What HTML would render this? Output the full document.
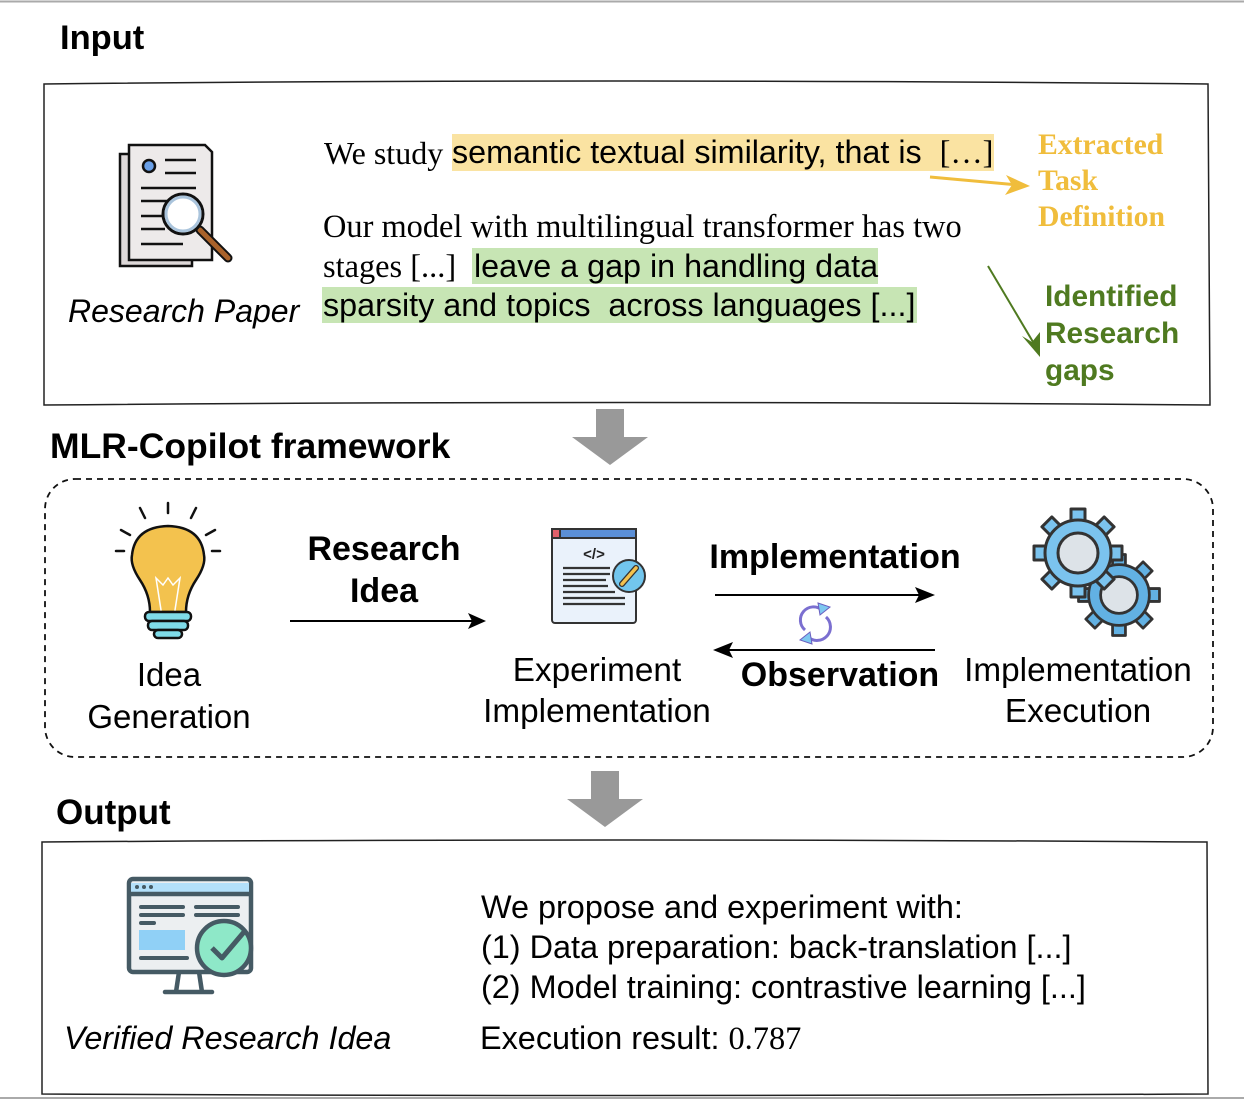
<!DOCTYPE html>
<html><head><meta charset="utf-8">
<style>
body{margin:0;background:#fff;}
#c{position:relative;width:1244px;height:1100px;overflow:hidden;font-family:"Liberation Sans",sans-serif;color:#000;}
.t{position:absolute;white-space:nowrap;line-height:1;}
.b{font-weight:bold;}
.ser{font-family:"Liberation Serif",serif;}
.ctr{transform:translateX(-50%);text-align:center;}
svg{position:absolute;left:0;top:0;}
</style></head><body><div id="c">
<svg width="1244" height="1100">
<defs>
<g id="tooth8"><rect x="-7" y="-44" width="14" height="14"/></g>
</defs>
<line x1="0" y1="1.5" x2="1244" y2="1.5" stroke="#aaa" stroke-width="2"/>
<line x1="0" y1="1098" x2="1244" y2="1098" stroke="#aaa" stroke-width="2"/>
<path d="M44,84 Q600,78 1208,84 L1210,405 Q620,400 44,405 Z" fill="none" stroke="#222" stroke-width="1.5"/>
<rect x="45" y="479" width="1168" height="278" rx="30" fill="none" stroke="#111" stroke-width="1.8" stroke-dasharray="6,5"/>
<path d="M42,842 Q600,838 1207,842 L1208,1094 Q620,1097 42,1094 Z" fill="none" stroke="#222" stroke-width="1.5"/>
<path d="M596,409 h28 v28 h24 l-38,28 l-38,-28 h24 Z" fill="#999"/>
<path d="M591,771 h28 v28 h24 l-38,28 l-38,-28 h24 Z" fill="#999"/>
<line x1="930" y1="177" x2="1018" y2="185" stroke="#f0bd3c" stroke-width="3"/>
<path d="M1030,186 L1006,175 L1012,185 L1005,195 Z" fill="#f0bd3c"/>
<line x1="988" y1="266" x2="1036" y2="347" stroke="#4f7a20" stroke-width="2"/>
<path d="M1040,357 L1022,336 L1032,342 L1040,332 Z" fill="#4f7a20"/>
<line x1="290" y1="621" x2="474" y2="621" stroke="#000" stroke-width="2"/>
<path d="M486,621 l-18,-8 l4,8 l-4,8 Z"/>
<line x1="715" y1="595" x2="925" y2="595" stroke="#000" stroke-width="2"/>
<path d="M935,595 l-20,-8 l4,8 l-4,8 Z"/>
<line x1="725" y1="650" x2="935" y2="650" stroke="#000" stroke-width="2"/>
<path d="M713,650 l20,-8 l-4,8 l4,8 Z"/>
<g fill="none" stroke="#7b6fd0" stroke-width="3">
<path d="M805,630 A12,12 0 0 1 822,610"/>
<path d="M826,617 A12,12 0 0 1 808,637"/>
</g>
<path d="M818,603 l12,4 l-10,8 Z" fill="#7ec8f0" stroke="#6a5fc0"/>
<path d="M812,644 l-12,-4 l10,-8 Z" fill="#7ec8f0" stroke="#6a5fc0"/>
<g stroke="#111" stroke-width="2.5">
<rect x="120" y="154" width="72" height="112" fill="#ddd8d8"/>
<path d="M129,145 h76 l7,7 v108 h-83 Z" fill="#edeaea"/>
<circle cx="149" cy="166" r="6" fill="#6aa0e8"/>
<line x1="165" y1="160" x2="196" y2="160"/><line x1="165" y1="173" x2="196" y2="173"/>
<line x1="141" y1="188" x2="196" y2="188"/><line x1="141" y1="201" x2="172" y2="201"/>
<line x1="141" y1="216" x2="165" y2="216"/><line x1="141" y1="229" x2="165" y2="229"/><line x1="141" y1="244" x2="183" y2="244"/>
<line x1="200" y1="230" x2="228" y2="258" stroke-width="9" stroke-linecap="round"/>
<line x1="200" y1="230" x2="228" y2="258" stroke="#a9622a" stroke-width="5" stroke-linecap="round"/>
<circle cx="183" cy="214" r="20" fill="#fff" stroke-width="3"/>
<circle cx="183" cy="214" r="17" fill="none" stroke="#aac4dc" stroke-width="3"/>
</g>
<g stroke="#111" stroke-width="2.5" stroke-linecap="round">
<line x1="168" y1="503" x2="168" y2="513"/><line x1="140" y1="508" x2="145" y2="518"/><line x1="196" y1="508" x2="191" y2="518"/>
<line x1="121" y1="530" x2="130" y2="535"/><line x1="215" y1="530" x2="206" y2="535"/>
<line x1="116" y1="551" x2="124" y2="551"/><line x1="212" y1="551" x2="220" y2="551"/>
<path d="M150,612 Q150,595 140,580 Q130,565 132,555 Q135,527 168,526 Q201,527 204,555 Q206,565 196,580 Q186,595 186,612 Z" fill="#f3c24e"/>
<rect x="145" y="612" width="46" height="9" rx="4" fill="#7fdbe8"/>
<rect x="148" y="621" width="40" height="9" rx="4" fill="#7fdbe8"/>
<rect x="154" y="630" width="28" height="8" rx="4" fill="#7fdbe8"/>
<path d="M161,610 L156,578 L163,585 L168,578 L173,585 L180,578 L175,610" fill="none" stroke="#fff" stroke-width="1.5"/>
</g>
<g stroke="#333" stroke-width="2">
<rect x="552" y="529" width="84" height="94" rx="3" fill="#eaf2fb"/>
<rect x="552" y="529" width="84" height="9" fill="#5b8fd6"/>
<rect x="552" y="529" width="8" height="9" fill="#e0606a"/>
<text x="594" y="559" font-size="15" font-weight="bold" text-anchor="middle" stroke="none" fill="#222">&lt;/&gt;</text>
<g stroke-width="2.2"><line x1="563" y1="568" x2="610" y2="568"/><line x1="563" y1="574" x2="610" y2="574"/><line x1="563" y1="580" x2="606" y2="580"/><line x1="563" y1="586" x2="608" y2="586"/><line x1="563" y1="592" x2="615" y2="592"/><line x1="563" y1="598" x2="625" y2="598"/><line x1="563" y1="604" x2="625" y2="604"/></g>
<circle cx="629" cy="576" r="16" fill="#72c6ee"/>
<line x1="622" y1="584" x2="636" y2="568" stroke="#333" stroke-width="6" stroke-linecap="round"/>
<line x1="622" y1="584" x2="636" y2="568" stroke="#f3c24e" stroke-width="3.5" stroke-linecap="round"/>
</g>
<!-- gears -->
<g stroke="#333" stroke-width="3" stroke-linejoin="round">
<g transform="translate(1119,595) scale(0.92)" fill="#62b1e3">
<use href="#tooth8"/><use href="#tooth8" transform="rotate(45)"/><use href="#tooth8" transform="rotate(90)"/><use href="#tooth8" transform="rotate(135)"/><use href="#tooth8" transform="rotate(180)"/><use href="#tooth8" transform="rotate(225)"/><use href="#tooth8" transform="rotate(270)"/><use href="#tooth8" transform="rotate(315)"/>
<circle r="33"/>
<circle r="20" fill="#dde3e8"/>
</g>
<g transform="translate(1078,553)" fill="#7bc3ee">
<use href="#tooth8"/><use href="#tooth8" transform="rotate(45)"/><use href="#tooth8" transform="rotate(90)"/><use href="#tooth8" transform="rotate(135)"/><use href="#tooth8" transform="rotate(180)"/><use href="#tooth8" transform="rotate(225)"/><use href="#tooth8" transform="rotate(270)"/><use href="#tooth8" transform="rotate(315)"/>
<circle r="33"/>
<circle r="20" fill="#dde3e8"/>
</g>
</g>
<g stroke="#455a64" stroke-width="4.5" stroke-linejoin="round">
<rect x="129" y="879" width="122" height="93" rx="4" fill="#eceff1"/>
<rect x="131" y="883" width="118" height="11" fill="#b3e0fa" stroke="none"/>
<line x1="129" y1="894" x2="251" y2="894"/>
<rect x="139" y="930" width="46" height="20" fill="#90d0f6" stroke="none"/>
<g stroke-width="4" stroke-linecap="round"><line x1="141" y1="907" x2="183" y2="907"/><line x1="141" y1="915" x2="183" y2="915"/><line x1="141" y1="923" x2="154" y2="923"/><line x1="196" y1="907" x2="238" y2="907"/><line x1="196" y1="915" x2="238" y2="915"/><line x1="141" y1="958" x2="187" y2="958"/></g>
<line x1="165" y1="992" x2="212" y2="992" stroke-linecap="round"/>
<path d="M179,972 L176,992 M199,972 L202,992"/>
<circle cx="224" cy="948" r="27" fill="#8ee8c8"/>
<path d="M212,948 L222,958 L244,932" fill="none" stroke-width="5"/>
</g>
<g fill="#455a64"><circle cx="137" cy="887" r="2"/><circle cx="144" cy="887" r="2"/><circle cx="151" cy="887" r="2"/></g>
</svg>
<div class="t b" style="left:60px;top:21px;font-size:34.5px;">Input</div>
<div class="t b" style="left:50px;top:429px;font-size:35.5px;">MLR-Copilot framework</div>
<div class="t b" style="left:56px;top:795px;font-size:35px;">Output</div>
<div class="t" style="left:68px;top:295px;font-size:32px;font-style:italic;">Research Paper</div>
<div style="position:absolute;left:452px;top:134px;width:542px;height:37px;background:#fae3a2;"></div>
<div style="position:absolute;left:472px;top:248px;width:406px;height:36px;background:#c7e5b4;"></div>
<div style="position:absolute;left:322px;top:287px;width:595px;height:36px;background:#c7e5b4;"></div>
<div class="t ser" style="left:324px;top:137px;font-size:32px;">We study</div>
<div class="t" style="left:452px;top:136px;font-size:32.3px;">semantic textual similarity, that is&nbsp; <span class="ser">[…]</span></div>
<div class="t ser" style="left:323px;top:211px;font-size:32.4px;">Our model with multilingual transformer has two</div>
<div class="t ser" style="left:323px;top:251px;font-size:32.4px;">stages [...]</div>
<div class="t" style="left:474px;top:250px;font-size:32.3px;">leave a gap in handling data</div>
<div class="t" style="left:323px;top:289px;font-size:32.3px;">sparsity and topics&nbsp; across languages [...]</div>
<div class="t ser b" style="left:1038px;top:127px;font-size:29.7px;color:#f0bd3c;line-height:36px;white-space:nowrap;">Extracted<br>Task<br>Definition</div>
<div class="t b" style="left:1045px;top:278px;font-size:29.8px;color:#4f7a20;line-height:37px;white-space:nowrap;">Identified<br>Research<br>gaps</div>
<div class="t ctr" style="left:169px;top:654px;font-size:33px;line-height:42px;">Idea<br>Generation</div>
<div class="t b ctr" style="left:384px;top:528px;font-size:34px;line-height:42px;">Research<br>Idea</div>
<div class="t ctr" style="left:597px;top:650px;font-size:33.3px;line-height:41px;">Experiment<br>Implementation</div>
<div class="t b ctr" style="left:835px;top:540px;font-size:34px;">Implementation</div>
<div class="t b ctr" style="left:840px;top:658px;font-size:34px;">Observation</div>
<div class="t ctr" style="left:1078px;top:650px;font-size:33.3px;line-height:41px;">Implementation<br>Execution</div>
<div class="t" style="left:481px;top:887px;font-size:32.4px;line-height:40px;">We propose and experiment with:<br>(1) Data preparation: back-translation [...]<br>(2) Model training: contrastive learning [...]</div>
<div class="t" style="left:480px;top:1022px;font-size:32.4px;">Execution result: <span class="ser">0.787</span></div>
<div class="t" style="left:64px;top:1022px;font-size:32.3px;font-style:italic;">Verified Research Idea</div>
</div></body></html>
